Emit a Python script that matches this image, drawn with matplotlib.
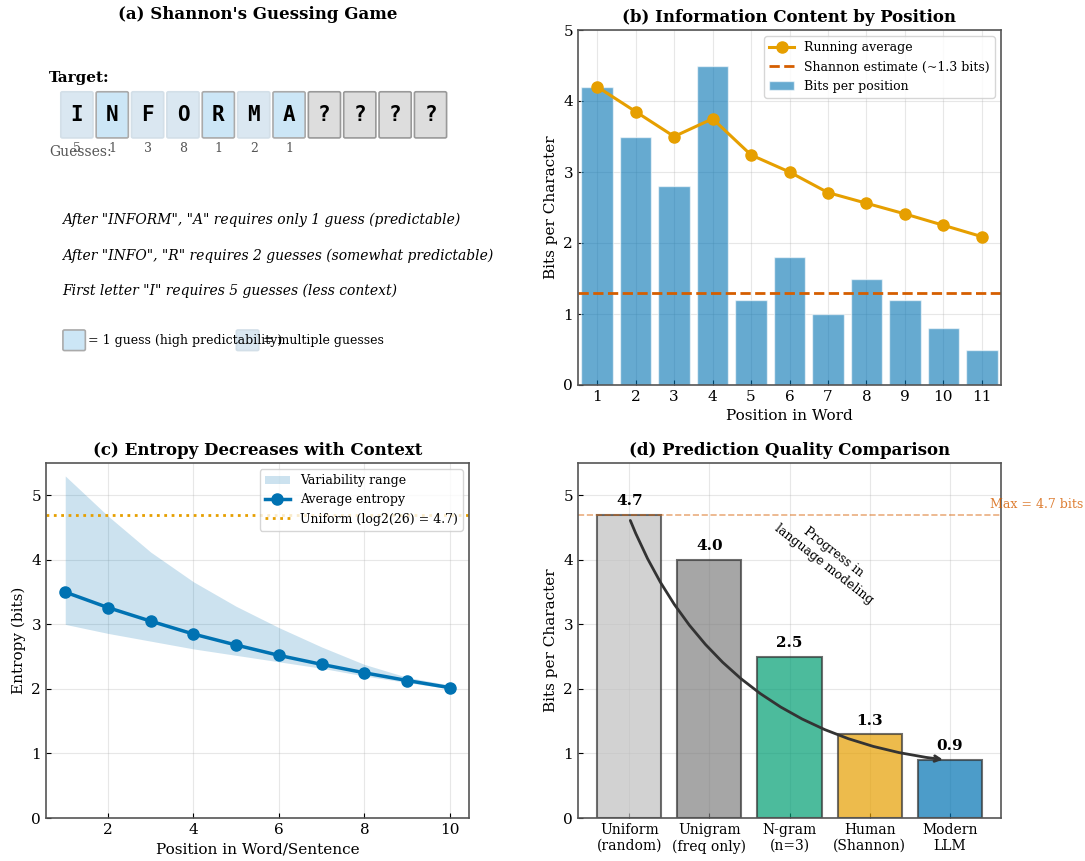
import matplotlib
matplotlib.use("Agg")
import matplotlib.pyplot as plt
from matplotlib.patches import FancyBboxPatch
import numpy as np

plt.rcParams['font.family'] = ['DejaVu Serif']
plt.rcParams['axes.edgecolor'] = '#555555'
plt.rcParams['axes.linewidth'] = 1.2
plt.rcParams['xtick.direction'] = 'in'
plt.rcParams['ytick.direction'] = 'in'
plt.rcParams['xtick.labelsize'] = 11
plt.rcParams['ytick.labelsize'] = 11

# ---------------- data ----------------
target_letters = ['I', 'N', 'F', 'O', 'R', 'M', 'A', '?', '?', '?', '?']
guess_counts = [5, 1, 3, 8, 1, 2, 1]
notes = ['After "INFORM", "A" requires only 1 guess (predictable)',
         'After "INFO", "R" requires 2 guesses (somewhat predictable)',
         'First letter "I" requires 5 guesses (less context)']

positions = [1, 2, 3, 4, 5, 6, 7, 8, 9, 10, 11]
bits_per_position = [4.2, 3.5, 2.8, 4.5, 1.2, 1.8, 1.0, 1.5, 1.2, 0.8, 0.5]
running_avg = [4.2, 3.85, 3.5, 3.75, 3.24, 3.0, 2.71, 2.56, 2.41, 2.25, 2.09]
shannon_estimate = 1.3

context_pos = [1, 2, 3, 4, 5, 6, 7, 8, 9, 10]
avg_entropy = [3.5, 3.26, 3.05, 2.85, 2.68, 2.52, 2.38, 2.25, 2.13, 2.02]
entropy_upper = [5.3, 4.68, 4.12, 3.66, 3.28, 2.95, 2.65, 2.38, 2.18, 2.06]
entropy_lower = [3.0, 2.86, 2.74, 2.62, 2.52, 2.42, 2.32, 2.2, 2.1, 2.0]
uniform_bits = 4.7

models = ['Uniform\n(random)', 'Unigram\n(freq only)', 'N-gram\n(n=3)',
          'Human\n(Shannon)', 'Modern\nLLM']
model_bits = [4.7, 4.0, 2.5, 1.3, 0.9]
model_colors = ['#C0C0C0', '#808080', '#009E73', '#E69F00', '#0072B2']

fig = plt.figure(figsize=(10.85, 8.61), dpi=100)

W, H = 1085, 861
def pos(l, t, r, b):
    return [l / W, 1 - b / H, (r - l) / W, (b - t) / H]

ax_a = fig.add_axes(pos(46, 30, 469, 385))
ax_b = fig.add_axes(pos(578, 30, 1001, 385))
ax_c = fig.add_axes(pos(46, 463, 469, 818))
ax_d = fig.add_axes(pos(578, 463, 1001, 818))

# ---------------- (a) ----------------
ax = ax_a
ax.set_xlim(0, 10)
ax.set_ylim(0, 10)
ax.axis('off')
ax.set_title("(a) Shannon's Guessing Game", fontsize=12, fontweight='bold', pad=8)
ax.text(0.07, 8.65, 'Target:', fontsize=11, fontweight='bold', va='center')
step, bw, bh = 0.836, 0.76, 1.3
x0, ybox = 0.35, 6.96
for i, ch in enumerate(target_letters):
    x = x0 + i * step
    if ch == '?':
        fc, ec = '#DDDDDD', '#999999'
    elif guess_counts[i] == 1:
        fc, ec = '#CCE6F6', '#AAAAAA'
    else:
        fc, ec = '#DAE7F1', '#D3DFE8'
    p = FancyBboxPatch((x + 0.04, ybox + 0.04), bw - 0.08, bh - 0.08,
                       boxstyle='round,pad=0.04', fc=fc, ec=ec, lw=1.2)
    ax.add_patch(p)
    ax.text(x + bw / 2, ybox + bh / 2, ch, ha='center', va='center',
            fontsize=15, fontweight='bold', family='DejaVu Sans Mono')
    if i < len(guess_counts):
        ax.text(x + bw / 2, 6.65, str(guess_counts[i]), ha='center', va='center',
                fontsize=9, color='#555555')
ax.text(0.07, 6.55, 'Guesses:', fontsize=10, color='#555555', va='center')
for j, note in enumerate(notes):
    ax.text(0.38, 4.65 - j * 1.0, note, fontsize=10, style='italic', va='center')
ax.add_patch(FancyBboxPatch((0.4 + 0.04, 0.97 + 0.04), 0.45, 0.5, boxstyle='round,pad=0.04',
                            fc='#CCE6F6', ec='#AAAAAA', lw=1.2))
ax.text(1.0, 1.25, '= 1 guess (high predictability)', fontsize=9, va='center')
ax.add_patch(FancyBboxPatch((4.5 + 0.04, 0.97 + 0.04), 0.45, 0.5, boxstyle='round,pad=0.04',
                            fc='#DAE7F1', ec='#D3DFE8', lw=1.2))
ax.text(5.12, 1.25, '= multiple guesses', fontsize=9, va='center')

# ---------------- (b) ----------------
ax = ax_b
ax.grid(True, alpha=0.3)
ax.set_axisbelow(True)
ax.bar(positions, bits_per_position, width=0.82, color='#0072B2', alpha=0.6,
       edgecolor='white', label='Bits per position')
ax.plot(positions, running_avg, '-o', color='#E69F00', lw=2.2, ms=8,
        label='Running average')
ax.axhline(shannon_estimate, color='#D55E00', ls='--', lw=2,
           label='Shannon estimate (~1.3 bits)')
ax.set_xlim(0.5, 11.5)
ax.set_ylim(0, 5)
ax.set_xticks(positions)
ax.set_xlabel('Position in Word', fontsize=11)
ax.set_ylabel('Bits per Character', fontsize=11)
ax.set_title('(b) Information Content by Position', fontsize=12, fontweight='bold')
h, l = ax.get_legend_handles_labels()
order = [l.index('Running average'), l.index('Shannon estimate (~1.3 bits)'),
         l.index('Bits per position')]
ax.legend([h[k] for k in order], [l[k] for k in order], loc='upper right', fontsize=9)

# ---------------- (c) ----------------
ax = ax_c
ax.grid(True, alpha=0.3)
ax.set_axisbelow(True)
ax.fill_between(context_pos, entropy_lower, entropy_upper, color='#0072B2', alpha=0.2,
                lw=0, label='Variability range')
ax.plot(context_pos, avg_entropy, '-o', color='#0072B2', lw=2.5, ms=8,
        label='Average entropy')
ax.axhline(uniform_bits, color='#E69F00', ls=':', lw=2,
           label='Uniform (log2(26) = 4.7)')
ax.set_ylim(0, 5.5)
ax.set_xlabel('Position in Word/Sentence', fontsize=11)
ax.set_ylabel('Entropy (bits)', fontsize=11)
ax.set_title('(c) Entropy Decreases with Context', fontsize=12, fontweight='bold')
ax.legend(loc='upper right', fontsize=9)

# ---------------- (d) ----------------
ax = ax_d
ax.grid(True, alpha=0.3)
ax.set_axisbelow(True)
xs = np.arange(len(models))
ax.bar(xs, model_bits, width=0.8, color=model_colors, alpha=0.7,
       edgecolor='#333333', linewidth=1.5)
for x, v in zip(xs, model_bits):
    ax.text(x, v + 0.1, f'{v:.1f}', ha='center', va='bottom', fontsize=11,
            fontweight='bold')
ax.axhline(max(model_bits), color='#D55E00', ls='--', lw=1.2, alpha=0.5)
ax.text(4.5, 4.86, 'Max = 4.7 bits', fontsize=9, color='#D55E00', alpha=0.8,
        va='center', ha='left', clip_on=False)
ax.annotate('', xy=(3.95, 0.9), xytext=(0, 4.65),
            arrowprops=dict(arrowstyle='->', color='#333333', lw=2,
                            connectionstyle='arc3,rad=0.3'))
ax.text(2.49, 4.02, 'Progress in\nlanguage modeling', fontsize=9, rotation=-38,
        ha='center', va='center')
ax.set_xticks(xs)
ax.set_xticklabels(models, fontsize=10)
ax.set_ylim(0, 5.5)
ax.set_ylabel('Bits per Character', fontsize=11)
ax.set_title('(d) Prediction Quality Comparison', fontsize=12, fontweight='bold')

fig.savefig('out.png', dpi=100)
